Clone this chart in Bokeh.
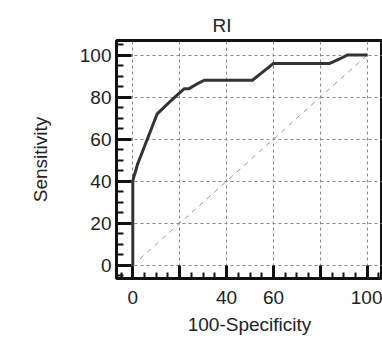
from bokeh.plotting import figure
from bokeh.models import Range1d, SingleIntervalTicker, FixedTicker
from bokeh.embed import file_html
from bokeh.resources import INLINE

# ROC curve (100-Specificity, Sensitivity)
fpr = [0, 0, 0.4, 1.0, 2.0, 3.4, 4.8, 6.2, 7.6, 9.0, 10.4, 13.2, 16.0, 19.0, 22.0, 24.0, 27.0, 30.5,
       51.0, 55.5, 60.0, 84.0, 88.0, 91.5, 100]
sens = [0, 40, 42, 44, 48, 52, 56, 60, 64, 68, 72, 75, 78, 81, 84, 84, 86, 88,
        88, 92, 96, 96, 98, 100, 100]
diag_x = [3, 100]
diag_y = [3, 100]
tick_vals = [0, 20, 40, 60, 80, 100]
x_label_overrides = {20: "", 80: ""}

FONT = "Liberation Sans"

p = figure(width=382, height=340, output_backend="svg", toolbar_location=None,
           x_range=Range1d(-6.95, 106.5), y_range=Range1d(-6.28, 106.9),
           min_border_left=116, min_border_right=0, min_border_top=40, min_border_bottom=62)

p.background_fill_color = "white"
p.border_fill_color = "white"
p.outline_line_color = "#111111"
p.outline_line_width = 3

p.title.text = "RI"
p.title.align = "left"
p.title.offset = 96
p.title.text_font = FONT
p.title.text_font_size = "19px"
p.title.text_font_style = "normal"
p.title.text_color = "#222222"

ticker = SingleIntervalTicker(interval=20, num_minor_ticks=4)
for ax in (p.xaxis[0], p.yaxis[0]):
    ax.ticker = ticker
    ax.axis_line_color = None
    ax.major_tick_line_color = "#111111"
    ax.minor_tick_line_color = "#111111"
    ax.major_tick_line_width = 3
    ax.minor_tick_line_width = 2
    ax.major_tick_out = 0
    ax.minor_tick_out = 0
    ax.major_label_text_font = FONT
    ax.major_label_text_font_size = "19px"
    ax.major_label_text_color = "#222222"
    ax.axis_label_text_font = FONT
    ax.axis_label_text_font_size = "19px"
    ax.axis_label_text_font_style = "normal"
    ax.axis_label_text_color = "#222222"

p.xaxis[0].major_tick_in = 13
p.xaxis[0].minor_tick_in = 6
p.xaxis[0].major_label_standoff = 12
p.xaxis[0].major_label_overrides = x_label_overrides
p.xaxis[0].axis_label = "100-Specificity"
p.xaxis[0].axis_label_standoff = 7

p.yaxis[0].major_tick_in = 15
p.yaxis[0].minor_tick_in = 7
p.yaxis[0].major_label_standoff = 5
p.yaxis[0].axis_label = "Sensitivity"
p.yaxis[0].axis_label_standoff = 26

for g in (p.xgrid[0], p.ygrid[0]):
    g.ticker = FixedTicker(ticks=tick_vals)
    g.grid_line_color = "#888888"
    g.grid_line_dash = "3 3"
    g.grid_line_width = 1

p.line(diag_x, diag_y, line_color="#999999", line_width=1, line_dash="5 5")
p.line(fpr, sens, line_color="#333333", line_width=3, line_join="round")

open("out.html", "w").write(file_html(p, INLINE))
